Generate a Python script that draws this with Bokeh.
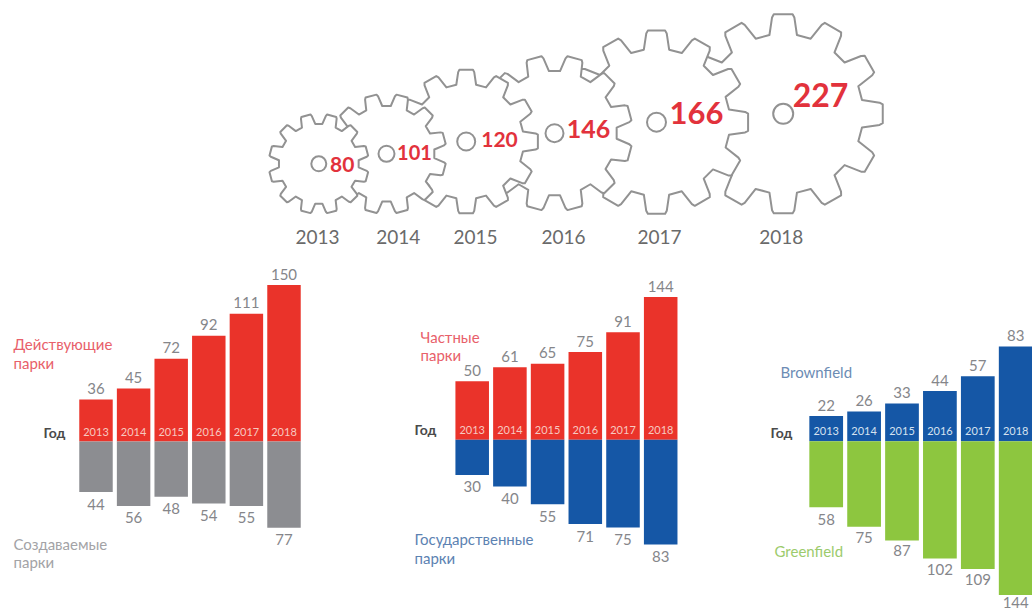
import math
from bokeh.plotting import figure
from bokeh.layouts import column, row
from bokeh.models import Range1d, ColumnDataSource
from bokeh.core.properties import value
from bokeh.embed import file_html
from bokeh.resources import INLINE

# ---- data -------------------------------------------------------------
years = [2013, 2014, 2015, 2016, 2017, 2018]
totals = [80, 101, 120, 146, 166, 227]

active_labels = [36, 45, 72, 92, 111, 150]
created_labels = [44, 56, 48, 54, 55, 77]
private_labels = [50, 61, 65, 75, 91, 144]
state_labels = [30, 40, 55, 71, 75, 83]
brown_labels = [22, 26, 33, 44, 57, 83]
green_labels = [58, 75, 87, 102, 109, 144]

# bar lengths as actually drawn in the picture (the original is not strictly to scale)
active_drawn = [36.5, 46, 72, 92, 111, 136]
created_drawn = [44, 56, 48, 54, 56, 75]
private_drawn = [50, 62, 65, 75, 92, 122]
state_drawn = [30, 40, 55, 72, 75, 89.5]
brown_drawn = [22, 26, 33, 44, 57, 83]
green_drawn = [58, 75, 87, 103, 112, 135]

# ---- gear diagram geometry ----------------------------------------------
gear_cx = [318.3, 386, 465.7, 554, 656, 782.7]
gear_cy = [163.3, 153.3, 141, 132.7, 121.7, 113.3]
gear_r = [50, 60, 72, 78, 92, 100]
gear_rot = [15, 15, 0, 15, 0, 0]
hole_r = [7.5, 8, 9, 9, 9.5, 10]
num_x = [341.7, 414, 499, 588, 696, 820]
num_y = [164, 151.7, 139.3, 128, 112.7, 94]
num_size = ["21px", "20px", "21px", "25px", "31px", "32px"]
year_x = [317, 397.7, 475, 563, 659, 780.7]
YEAR_Y = 236

RED = "#EA332A"
GREY = "#8C8D91"
BLUE = "#1557A6"
GREEN = "#8DC63F"
VAL = "#85868A"
FONT = value("Lato")


def gear_outline(cx, cy, R, rot, teeth=12):
    root = R * 0.8
    pitch = 2 * math.pi / teeth
    xs, ys = [], []
    for k in range(teeth):
        a = math.radians(rot) + k * pitch
        for rad, frac in ((root, -0.33), (R * 0.97, -0.22), (R, -0.18), (R, 0.18), (R * 0.97, 0.22), (root, 0.33)):
            t = a + frac * pitch
            xs.append(cx + rad * math.cos(t))
            ys.append(cy - rad * math.sin(t))
    return xs, ys


def blank(fig):
    fig.xgrid.visible = False
    fig.ygrid.visible = False
    fig.outline_line_color = None
    fig.background_fill_color = "white"
    fig.border_fill_color = "white"
    return fig


# ---- top: gears ----------------------------------------------------------
top = blank(figure(width=1032, height=262, x_range=Range1d(0, 1032), y_range=Range1d(262, 0),
                   x_axis_location=None, y_axis_location=None, toolbar_location=None,
                   output_backend="svg", min_border=0))

outlines = [gear_outline(c, d, r, o) for c, d, r, o in zip(gear_cx, gear_cy, gear_r, gear_rot)]
for xs, ys in reversed(outlines):
    top.patch(xs, ys, fill_color="white", line_color="#929292", line_width=2, line_join="round")
top.circle(x=gear_cx, y=gear_cy, radius=hole_r, fill_color="white", line_color="#929292", line_width=2)
num_src = ColumnDataSource(dict(x=num_x, y=num_y, t=[str(v) for v in totals], s=num_size))
top.text(x="x", y="y", text="t", source=num_src, text_font=FONT, text_font_style="bold",
         text_font_size="s", text_color="#E2323C", text_align="center", text_baseline="middle")
top.text(x=year_x, y=[YEAR_Y] * 6, text=[str(y) for y in years], text_font=FONT, text_font_size="19px",
         text_color="#6A6A6A", text_align="center", text_baseline="middle")

# ---- bottom: three diverging bar charts -----------------------------------
TOP_S, BOT_S = 262, 611


def chart(left, width, first_c, pitch, base, scale, up, down, up_lab, down_lab, up_col, down_col,
          year_col, notes, down_off=None):
    x0 = 2013 - (first_c - left) / pitch
    fig = blank(figure(width=width, height=BOT_S - TOP_S,
                       x_range=Range1d(x0, x0 + width / pitch),
                       y_range=Range1d(-(BOT_S - base) / scale, (base - TOP_S) / scale),
                       x_axis_location=None, y_axis_location=None, toolbar_location=None,
                       output_backend="svg", min_border=0))
    fig.vbar(x=years, bottom=0, top=up, width=0.89, fill_color=up_col, line_color=None)
    fig.vbar(x=years, bottom=[-d for d in down], top=0, width=0.89, fill_color=down_col, line_color=None)
    fig.text(x=years, y=up, text=[str(v) for v in up_lab], y_offset=-11, text_font=FONT, text_font_size="15px",
             text_color=VAL, text_align="center", text_baseline="middle")
    off = down_off or [12] * 6
    src = ColumnDataSource(dict(x=years, y=[-d for d in down], t=[str(v) for v in down_lab], o=off))
    fig.text(x="x", y="y", text="t", y_offset="o", source=src, text_font=FONT, text_font_size="15px",
             text_color=VAL, text_align="center", text_baseline="middle")
    fig.text(x=years, y=[0] * 6, text=[str(y) for y in years], y_offset=-10, text_font=FONT,
             text_font_size="11px", text_color=year_col, text_align="center", text_baseline="middle")
    for txt, sx, sy, col, size, style in notes:
        fig.text(x=[x0 + (sx - left) / pitch], y=[(base - sy) / scale], text=[txt], text_font=FONT,
                 text_font_size=size, text_font_style=style, text_color=col,
                 text_align="left", text_baseline="middle")
    return fig


f1 = chart(0, 400, 95.5, 37.6, 441, 1.15, active_drawn, created_drawn, active_labels, created_labels,
           RED, GREY, "#F7C9C0",
           [("Действующие", 13, 343, "#E8606A", "15px", "normal"), ("парки", 13, 362, "#E8606A", "15px", "normal"),
            ("Год", 43, 432, "#4A4A4A", "14px", "bold"),
            ("Создаваемые", 13, 543, "#A3A3A6", "15px", "normal"), ("парки", 13, 561, "#A3A3A6", "15px", "normal")])
f2 = chart(400, 370, 471.7, 37.7, 439.3, 1.17, private_drawn, state_drawn, private_labels, state_labels,
           RED, BLUE, "#F7C9C0",
           [("Частные", 420, 336, "#E8606A", "15px", "normal"), ("парки", 420, 354, "#E8606A", "15px", "normal"),
            ("Год", 414, 429, "#4A4A4A", "14px", "bold"),
            ("Государственные", 414, 538, "#5C82B2", "15px", "normal"), ("парки", 414, 557, "#5C82B2", "15px", "normal")])
f3 = chart(770, 262, 825.7, 37.9, 440.7, 1.14, brown_drawn, green_drawn, brown_labels, green_labels,
           BLUE, GREEN, "#D5E2F0",
           [("Brownfield", 780, 371, "#6C8CB4", "15px", "normal"),
            ("Год", 770, 432, "#4A4A4A", "14px", "bold"),
            ("Greenfield", 774, 550, "#9CCB6C", "15px", "normal")],
           down_off=[12, 11, 10, 11, 11, 7])

page = column(top, row(f1, f2, f3, spacing=0), spacing=0)
open("out.html", "w").write(file_html(page, INLINE))
